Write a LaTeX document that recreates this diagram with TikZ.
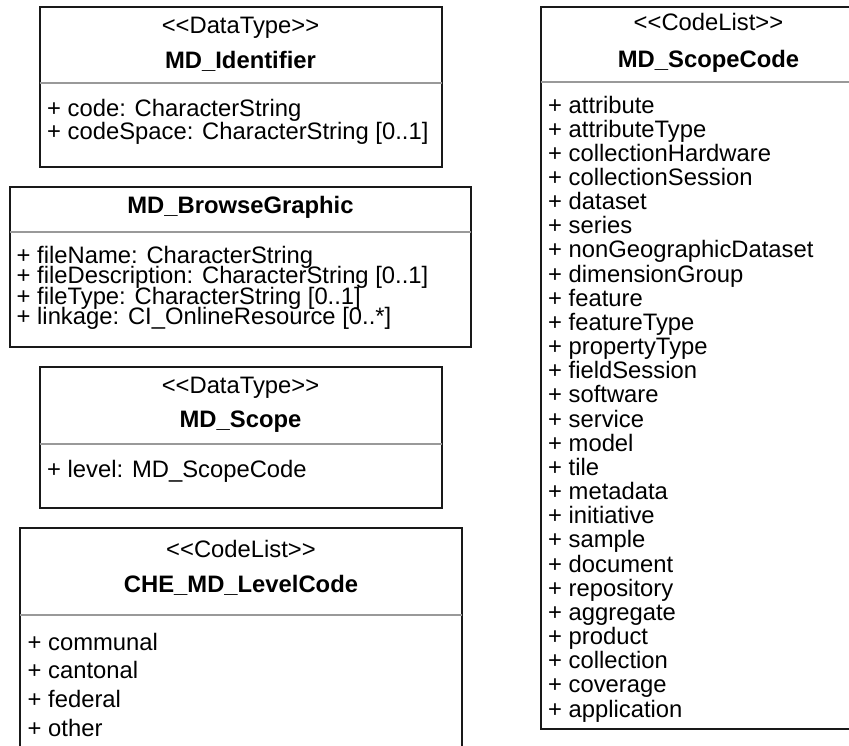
\documentclass[tikz,border=0pt]{standalone}
\usepackage{fontspec}
\setmainfont{Liberation Sans}
\tikzset{
  box/.style={draw=black!90, line width=2pt},
  sep/.style={draw=black!40, line width=1.6pt},
  txt/.style={inner sep=0pt, anchor=base west, font=\fontsize{23.8}{24}\selectfont},
  stereo/.style={inner sep=0pt, anchor=base, font=\fontsize{23.8}{24}\selectfont},
  ttl/.style={inner sep=0pt, anchor=base, font=\fontsize{23.8}{24}\selectfont\bfseries},
}
\newcommand{\stLL}{<\kern0pt<}
\newcommand{\stGG}{>\kern0pt>}
\begin{document}
\begin{tikzpicture}[x=1pt,y=-1pt]
\useasboundingbox (0,0) rectangle (849,745);
\begin{scope}
\clip (0,0) rectangle (849,745);
% MD_Identifier
\draw[box] (39.5,7) rectangle (441.5,167);
\draw[sep] (39.5,83) -- (441.5,83);
\node[stereo] (idst) at (240.5,33) {\stLL DataType\stGG};
\node[ttl] (idt) at (240.5,68) {MD\_Identifier};
\node[txt] (ida1) at (47,116) {+ code: CharacterString};
\node[txt] (ida2) at (47,139) {+ codeSpace: CharacterString [0..1]};
% MD_BrowseGraphic
\draw[box] (10,187) rectangle (471,347);
\draw[sep] (10,232) -- (471,232);
\node[ttl] (bgt) at (240.5,213) {MD\_BrowseGraphic};
\node[txt] (bga1) at (16.5,263.5) {+ fileName: CharacterString};
\node[txt] (bga2) at (16.5,283.8) {+ fileDescription: CharacterString [0..1]};
\node[txt] (bga3) at (16.5,304) {+ fileType: CharacterString [0..1]};
\node[txt] (bga4) at (16.5,324) {+ linkage: CI\_OnlineResource [0..*]};
% MD_Scope
\draw[box] (39.5,367) rectangle (441.5,508);
\draw[sep] (39.5,444) -- (441.5,444);
\node[stereo] (scst) at (240.5,393) {\stLL DataType\stGG};
\node[ttl] (sct) at (240.5,427) {MD\_Scope};
\node[txt] (sca1) at (47,477) {+ level: MD\_ScopeCode};
% CHE_MD_LevelCode
\draw[box] (20,760) -- (20,528) -- (462,528) -- (462,760);
\draw[sep] (20,615) -- (462,615);
\node[stereo] (lcst) at (241,557) {\stLL CodeList\stGG};
\node[ttl] (lct) at (241,592) {CHE\_MD\_LevelCode};
\node[txt] (lca1) at (27.5,650) {+ communal};
\node[txt] (lca2) at (27.5,678.5) {+ cantonal};
\node[txt] (lca3) at (27.5,707.5) {+ federal};
\node[txt] (lca4) at (27.5,736) {+ other};
% MD_ScopeCode
\draw[box] (541,7) rectangle (876,729);
\draw[sep] (541,82) -- (876,82);
\node[stereo] (spst) at (708.5,30) {\stLL CodeList\stGG};
\node[ttl] (spt) at (708.5,67) {MD\_ScopeCode};
\foreach \t [count=\i from 0] in {attribute,attributeType,collectionHardware,collectionSession,dataset,series,nonGeographicDataset,dimensionGroup,feature,featureType,propertyType,fieldSession,software,service,model,tile,metadata,initiative,sample,document,repository,aggregate,product,collection,coverage,application}
  \node[txt] (spa\i) at (548,113+\i*24.16) {+ \t};
\end{scope}
\end{tikzpicture}
\end{document}
